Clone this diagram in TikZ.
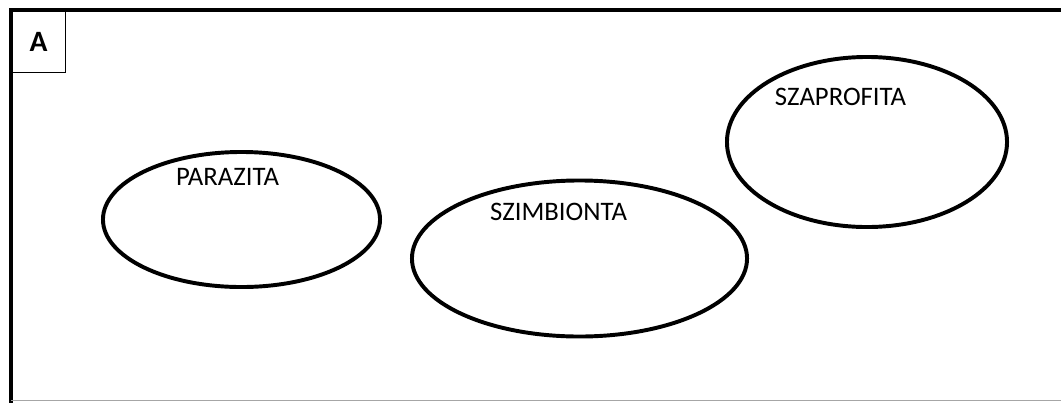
\documentclass[tikz,border=0pt]{standalone}
\usepackage{fontspec}
\setmainfont{Carlito}
\usetikzlibrary{shapes}

\begin{document}
\begin{tikzpicture}[x=0.025cm,y=-0.025cm]
	  \tikzstyle{group}=[ellipse,draw=black,line width=2.8pt,inner sep=0pt]
	  \tikzstyle{grouplabel}=[inner sep=0pt,font=\fontsize{19}{21}\selectfont]
	  \tikzstyle{tag}=[rectangle,draw=black,line width=0.9pt,anchor=north west,
				  minimum width=1.35cm,minimum height=1.55cm,font=\fontsize{21}{23}\selectfont\bfseries]

	\useasboundingbox (0,0) rectangle (1061,403);

	\coordinate (frame_ne) at (1061,10);
	\coordinate (frame_nw) at (11,10);
	\coordinate (frame_sw) at (11,403);
	\coordinate (bottom_left) at (11,400);
	\coordinate (bottom_right) at (1061,400);

	\draw[line width=2.3pt] (frame_ne) -- (frame_nw) -- (frame_sw);
	\draw[black!35,line width=0.6pt] (bottom_left) -- (bottom_right);

	\node (tag_a)[tag] at (frame_nw) {A};

	\node (parazita)[group,minimum width=6.925cm,minimum height=3.375cm] at (241.5,219.5) {};
	\node (szimbionta)[group,minimum width=8.375cm,minimum height=3.9cm] at (579.5,258.5) {};
	\node (szaprofita)[group,minimum width=7cm,minimum height=4.25cm] at (867,142) {};

	\node (parazita_label)[grouplabel] at (227.5,177) {PARAZITA};
	\node (szimbionta_label)[grouplabel] at (558.5,212) {SZIMBIONTA};
	\node (szaprofita_label)[grouplabel] at (840.5,97) {SZAPROFITA};

		%\draw (parazita) -- (szimbionta);
	\end{tikzpicture}
\end{document}
